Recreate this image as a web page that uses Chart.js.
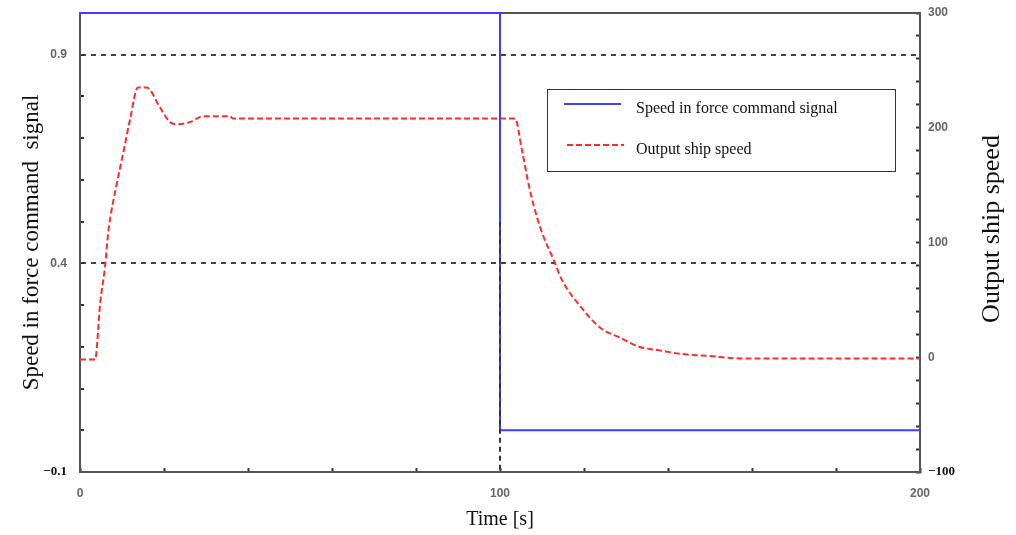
<!DOCTYPE html>
<html>
<head>
<meta charset="utf-8">
<script src="https://cdn.jsdelivr.net/npm/chart.js@4"></script>
<style>
    html, body { margin: 0; padding: 0; background: #fff; }
</style>
</head>
<body>
<canvas id="chart" width="1016" height="535"></canvas>
<script>
// Command signal (left axis)
const cmdTime = [0, 100, 100, 200];
const cmdSpeed = [1, 1, 0, 0];

// Ship speed response (right axis)
const shipTime = [0, 3.6, 4.8, 6, 6.7, 8.8, 10.3, 11.9, 13.8, 15.9, 19, 21.4, 23.3, 26.2, 29.3, 35.7, 36.4,
    103.6, 105.2, 107.1, 109.5, 113.1, 114.8, 119, 123.8, 128.6, 133.3, 138, 142.9, 150, 157, 200];
const shipSpeed = [-2, -2, 47, 80, 108, 152, 178, 207, 235, 235, 218, 205, 203, 205, 210, 210, 208,
    208, 181, 146, 114, 82, 67, 45, 26, 17, 9, 6, 3, 1, -1, -1];

// Vertical dashed marker at the switch time
const markerTime = [100, 100];
const markerLevel = [0.5, -0.1];

// Labelled ticks
const leftTickLabels = [0.9, 0.4, -0.1];
const rightTickLabels = [300, 200, 100, 0, -100];
const timeTickLabels = [0, 100, 200];
const dashedLevels = [0.9, 0.4];

const toPoints = (xs, ys) => xs.map((x, i) => ({ x, y: ys[i] }));
const near = (list, v) => list.some(l => Math.abs(l - v) < 1e-6);
const fmt = v => v < 0 ? "\u2212" + String(Math.abs(v)) : String(v);

const tickFont = ctx => (ctx.tick && ctx.tick.value < 0)
    ? { family: "Liberation Serif", size: 13, weight: "bold" }
    : { family: "Liberation Sans", size: 12, weight: "bold" };
const tickColor = ctx => (ctx.tick && ctx.tick.value < 0) ? "#111" : "#666";

// fixed box sizes so the plot area lands where the original one is
const fixWidth = w => s => { s.width = w; s.paddingTop = 0; s.paddingBottom = 0; };
const fixHeight = h => s => { s.height = h; s.paddingLeft = 0; s.paddingRight = 0; };

const extraText = {
    id: "extraText",
    afterDraw(chart) {
        const ctx = chart.ctx;
        const ds = chart.data.datasets;
        ctx.save();
        // legend box
        ctx.fillStyle = "#fff";
        ctx.fillRect(547.5, 89.5, 348, 82);
        ctx.strokeStyle = "#333";
        ctx.lineWidth = 1;
        ctx.strokeRect(547.5, 89.5, 348, 82);
        const rows = [
            { d: ds[0], ly: 104, ty: 109, x0: 564 },
            { d: ds[1], ly: 145, ty: 150, x0: 567 }
        ];
        rows.forEach(r => {
            ctx.beginPath();
            ctx.strokeStyle = r.d.borderColor;
            ctx.lineWidth = r.d.borderWidth;
            ctx.setLineDash(r.d.borderDash || []);
            ctx.moveTo(r.x0, r.ly);
            ctx.lineTo(r.x0 + 57, r.ly);
            ctx.stroke();
            ctx.setLineDash([]);
            ctx.fillStyle = "#111";
            ctx.font = '16px "Liberation Serif"';
            ctx.textBaseline = "middle";
            ctx.fillText(r.d.label, 636, r.ty);
        });
        // right axis title, reading bottom to top
        ctx.translate(992, 229);
        ctx.rotate(-Math.PI / 2);
        ctx.font = '26px "Liberation Serif"';
        ctx.textAlign = "center";
        ctx.textBaseline = "middle";
        ctx.fillStyle = "#111";
        ctx.fillText("Output ship speed", 0, 0);
        ctx.restore();
    }
};

new Chart(document.getElementById("chart"), {
    type: "line",
    data: {
        datasets: [
            {
                label: "Speed in force command signal",
                data: toPoints(cmdTime, cmdSpeed),
                borderColor: "#3d3dff",
                borderWidth: 2,
                pointRadius: 0,
                tension: 0,
                clip: false,
                xAxisID: "x",
                yAxisID: "y",
                order: 2
            },
            {
                label: "Output ship speed",
                data: toPoints(shipTime, shipSpeed),
                borderColor: "#ff2b2b",
                borderWidth: 2,
                borderDash: [6, 3],
                pointRadius: 0,
                cubicInterpolationMode: "monotone",
                xAxisID: "x",
                yAxisID: "y1",
                order: 3
            },
            {
                label: "marker",
                data: toPoints(markerTime, markerLevel),
                borderColor: "#333",
                borderWidth: 2,
                borderDash: [5, 4],
                pointRadius: 0,
                xAxisID: "x",
                yAxisID: "y",
                order: 1
            }
        ]
    },
    options: {
        responsive: false,
        animation: false,
        events: [],
        layout: { padding: 0 },
        plugins: { legend: { display: false }, tooltip: { enabled: false } },
        scales: {
            x: {
                type: "linear",
                position: "bottom",
                min: 0,
                max: 200,
                afterFit: fixHeight(63),
                ticks: {
                    stepSize: 20,
                    autoSkip: false,
                    maxRotation: 0,
                    padding: 18,
                    font: tickFont,
                    color: tickColor,
                    callback: v => near(timeTickLabels, v) ? fmt(v) : ""
                },
                grid: { drawOnChartArea: false, tickLength: -4, tickWidth: 2, tickColor: "#333" },
                border: { color: "#555", width: 2 },
                title: {
                    display: true,
                    text: "Time [s]",
                    color: "#111",
                    font: { family: "Liberation Serif", size: 20 },
                    padding: { top: 0, bottom: 3 }
                }
            },
            x2: {
                type: "linear",
                position: "top",
                min: 0,
                max: 200,
                afterFit: fixHeight(13),
                ticks: { display: false },
                grid: { display: false },
                border: { color: "#555", width: 2 }
            },
            y: {
                type: "linear",
                position: "left",
                min: -0.1,
                max: 1.0,
                afterFit: fixWidth(80),
                ticks: {
                    stepSize: 0.1,
                    autoSkip: false,
                    padding: 17,
                    font: tickFont,
                    color: tickColor,
                    callback: v => near(leftTickLabels, v) ? fmt(v) : ""
                },
                grid: {
                    color: ctx => (ctx.tick && near(dashedLevels, ctx.tick.value)) ? "#444" : "transparent",
                    lineWidth: 2,
                    tickLength: -4,
                    tickWidth: 2,
                    tickColor: "#333"
                },
                border: { color: "#555", width: 2, dash: [5, 5] },
                title: {
                    display: true,
                    text: "Speed in force command  signal",
                    color: "#111",
                    font: { family: "Liberation Serif", size: 23 },
                    padding: { top: 18, bottom: 0 }
                }
            },
            y1: {
                type: "linear",
                position: "right",
                min: -100,
                max: 300,
                afterFit: fixWidth(96),
                ticks: {
                    stepSize: 20,
                    autoSkip: false,
                    padding: 12,
                    font: tickFont,
                    color: tickColor,
                    callback: v => near(rightTickLabels, v) ? fmt(v) : ""
                },
                grid: { drawOnChartArea: false, tickLength: -4, tickWidth: 2, tickColor: "#333" },
                border: { color: "#555", width: 2 }
            }
        }
    },
    plugins: [extraText]
});
</script>
</body>
</html>
